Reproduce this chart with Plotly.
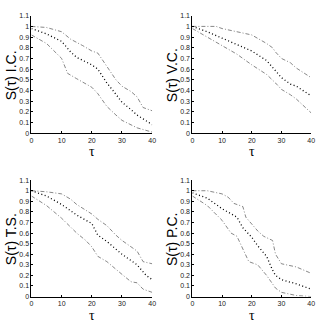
import plotly.graph_objects as go

# ---- data ----
ic_up_x = [0, 5, 10, 13, 17, 20, 22, 25, 28, 30, 33, 35, 37, 40]
ic_up_y = [1.0, 0.99, 0.95, 0.88, 0.82, 0.77, 0.75, 0.62, 0.50, 0.44, 0.39, 0.34, 0.24, 0.21]
ic_mid_x = [0, 5, 10, 13, 15, 20, 22, 25, 27, 30, 33, 35, 40]
ic_mid_y = [0.98, 0.93, 0.86, 0.76, 0.71, 0.64, 0.60, 0.47, 0.40, 0.29, 0.22, 0.17, 0.08]
ic_lo_x = [0, 5, 10, 12, 15, 20, 22, 25, 28, 30, 35, 40]
ic_lo_y = [0.92, 0.84, 0.70, 0.56, 0.51, 0.43, 0.37, 0.25, 0.17, 0.12, 0.05, 0.01]

vc_up_x = [0, 5, 8, 10, 15, 20, 25, 27, 28, 30, 33, 35, 40]
vc_up_y = [1.0, 1.0, 1.0, 0.98, 0.95, 0.92, 0.84, 0.80, 0.76, 0.70, 0.66, 0.61, 0.52]
vc_mid_x = [0, 5, 10, 15, 20, 25, 28, 30, 33, 35, 40]
vc_mid_y = [1.0, 0.95, 0.89, 0.83, 0.77, 0.68, 0.58, 0.52, 0.46, 0.44, 0.35]
vc_lo_x = [0, 5, 10, 15, 20, 25, 28, 30, 33, 35, 40]
vc_lo_y = [0.98, 0.90, 0.82, 0.74, 0.64, 0.55, 0.47, 0.41, 0.36, 0.32, 0.19]

ts_up_x = [0, 5, 10, 13, 15, 20, 22, 25, 28, 30, 35, 37, 40]
ts_up_y = [1.0, 0.99, 0.97, 0.92, 0.87, 0.78, 0.73, 0.67, 0.58, 0.53, 0.43, 0.33, 0.31]
ts_mid_x = [0, 5, 10, 15, 20, 22, 25, 30, 35, 38, 40]
ts_mid_y = [1.0, 0.95, 0.87, 0.77, 0.69, 0.58, 0.52, 0.40, 0.30, 0.20, 0.16]
ts_lo_x = [0, 5, 10, 13, 15, 18, 20, 22, 25, 30, 33, 35, 37, 40]
ts_lo_y = [0.95, 0.86, 0.74, 0.65, 0.60, 0.53, 0.47, 0.38, 0.33, 0.21, 0.14, 0.13, 0.07, 0.04]

pc_up_x = [0, 5, 10, 12, 14, 17, 18, 20, 22, 24, 27, 28, 30, 35, 40]
pc_up_y = [1.0, 1.0, 0.97, 0.94, 0.88, 0.85, 0.75, 0.68, 0.62, 0.57, 0.53, 0.40, 0.31, 0.28, 0.22]
pc_mid_x = [0, 5, 10, 15, 17, 20, 22, 25, 27, 28, 30, 35, 40]
pc_mid_y = [0.98, 0.93, 0.83, 0.75, 0.65, 0.56, 0.48, 0.38, 0.25, 0.20, 0.16, 0.12, 0.07]
pc_lo_x = [0, 5, 10, 13, 15, 17, 19, 22, 25, 27, 28, 30, 35, 40]
pc_lo_y = [0.95, 0.86, 0.72, 0.60, 0.57, 0.45, 0.33, 0.30, 0.20, 0.12, 0.08, 0.04, 0.01, 0.0]

labels = ["S(τ) I.C.", "S(τ) V.C.", "S(τ) T.S.", "S(τ) P.C."]
panels = [
    ((ic_up_x, ic_up_y), (ic_mid_x, ic_mid_y), (ic_lo_x, ic_lo_y)),
    ((vc_up_x, vc_up_y), (vc_mid_x, vc_mid_y), (vc_lo_x, vc_lo_y)),
    ((ts_up_x, ts_up_y), (ts_mid_x, ts_mid_y), (ts_lo_x, ts_lo_y)),
    ((pc_up_x, pc_up_y), (pc_mid_x, pc_mid_y), (pc_lo_x, pc_lo_y)),
]
y_ticks = [i / 10 for i in range(12)]
y_ticktext = ["0", "0.1", "0.2", "0.3", "0.4", "0.5", "0.6", "0.7", "0.8", "0.9", "1", "1.1"]
x_ticks = [0, 10, 20, 30, 40]

W, H = 323, 326
# pixel boxes (left, right, top, bottom)
boxes = [(30, 153, 12, 132), (194, 315, 12, 132), (30, 153, 180, 299), (194, 315, 180, 299)]

fig = go.Figure()
annotations = []
for i, (box, lines, lab) in enumerate(zip(boxes, panels, labels)):
    n = "" if i == 0 else str(i + 1)
    xa, ya = "x" + n, "y" + n
    l, r, t, b = box
    for j, (xs, ys) in enumerate(lines):
        if j == 1:
            line = dict(color="black", width=1.3, dash="1px,2.5px")
        else:
            line = dict(color="#6a6a6a", width=0.8, dash="4px,2px,1px,2px")
        fig.add_trace(go.Scatter(x=xs, y=ys, mode="lines", line=line, xaxis=xa, yaxis=ya,
                                 showlegend=False, hoverinfo="skip"))
    axfont = dict(family="Liberation Sans, Arial", size=7, color="#222222")
    fig.update_layout(**{
        "xaxis" + n: dict(domain=[l / W, r / W], range=[0, 40], tickvals=x_ticks,
                          showline=True, linecolor="black", linewidth=1, ticks="inside",
                          ticklen=2, tickcolor="black", showgrid=False, zeroline=False,
                          tickfont=axfont, anchor=ya),
        "yaxis" + n: dict(domain=[1 - b / H, 1 - t / H], range=[0, 1.1], tickvals=y_ticks,
                          ticktext=y_ticktext, showline=True, linecolor="black", linewidth=1,
                          ticks="inside", ticklen=2, tickcolor="black", showgrid=False,
                          zeroline=False, tickfont=axfont, anchor=xa),
    })
    annotations.append(dict(text=lab, textangle=-90, xref="paper", yref="paper",
                            x=(l - 20) / W, y=1 - ((t + b) / 2 + 1) / H, showarrow=False,
                            font=dict(family="Liberation Sans, Arial", size=14, color="black"),
                            xanchor="center", yanchor="middle"))
    annotations.append(dict(text="τ", xref="paper", yref="paper",
                            x=(l + r) / 2 / W, y=1 - (b + 19) / H, showarrow=False,
                            font=dict(family="Liberation Serif, Times New Roman", size=14, color="black"),
                            xanchor="center", yanchor="middle"))

fig.update_layout(width=W, height=H, margin=dict(l=0, r=0, t=0, b=0),
                  paper_bgcolor="white", plot_bgcolor="white", annotations=annotations)
fig.write_html("out.html")
